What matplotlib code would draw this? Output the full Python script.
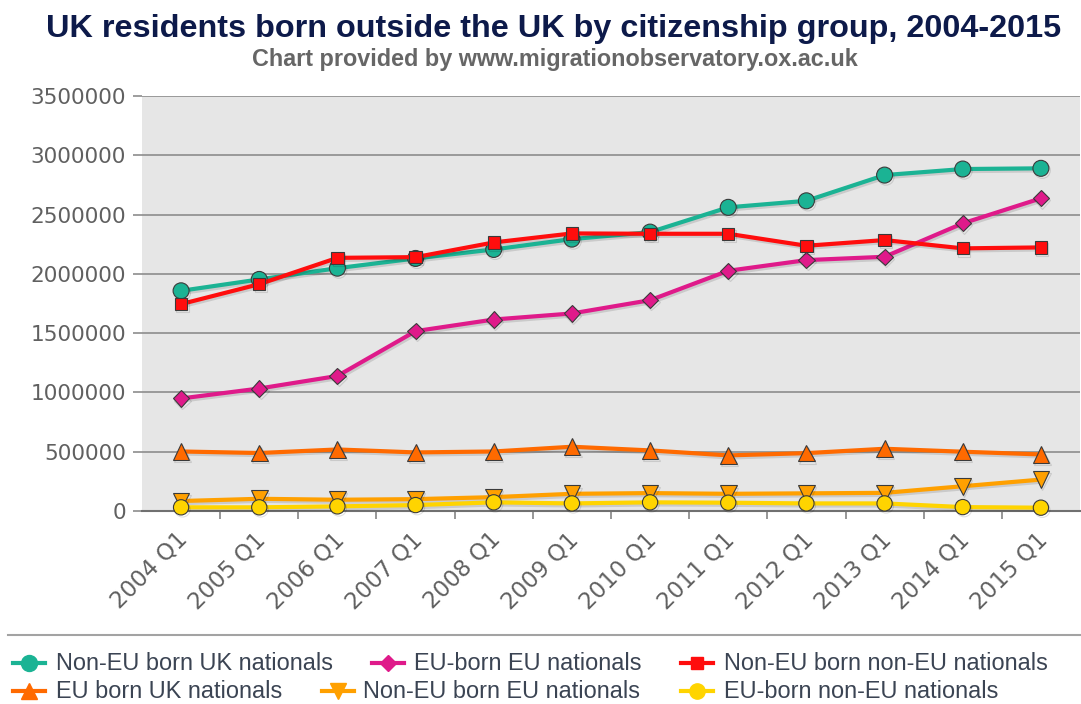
import matplotlib
matplotlib.use("Agg")
import matplotlib.pyplot as plt
from matplotlib.lines import Line2D
import matplotlib.transforms as mtransforms
import matplotlib.patheffects as pe

# ---------------- data ----------------
quarters = ["2004 Q1", "2005 Q1", "2006 Q1", "2007 Q1", "2008 Q1", "2009 Q1",
            "2010 Q1", "2011 Q1", "2012 Q1", "2013 Q1", "2014 Q1", "2015 Q1"]

non_eu_born_uk_nationals = [1857000, 1953000, 2048000, 2130000, 2206000, 2293000,
                            2352000, 2561000, 2616000, 2833000, 2884000, 2890000]
eu_born_eu_nationals = [949000, 1033000, 1139000, 1517000, 1615000, 1666000,
                        1778000, 2026000, 2116000, 2144000, 2426000, 2637000]
non_eu_born_non_eu_nationals = [1745000, 1913000, 2135000, 2141000, 2265000, 2341000,
                                2338000, 2338000, 2237000, 2285000, 2215000, 2223000]
eu_born_uk_nationals = [502000, 489000, 519000, 494000, 502000, 542000,
                        511000, 469000, 488000, 525000, 500000, 477000]
non_eu_born_eu_nationals = [84000, 103000, 95000, 100000, 117000, 145000,
                            151000, 145000, 149000, 153000, 209000, 265000]
eu_born_non_eu_nationals = [31000, 31000, 39000, 50000, 73000, 64000,
                            73000, 70000, 64000, 64000, 33000, 28000]

series_names = ["Non-EU born UK nationals", "EU-born EU nationals",
                "Non-EU born non-EU nationals", "EU born UK nationals",
                "Non-EU born EU nationals", "EU-born non-EU nationals"]
series_values = [non_eu_born_uk_nationals, eu_born_eu_nationals,
                 non_eu_born_non_eu_nationals, eu_born_uk_nationals,
                 non_eu_born_eu_nationals, eu_born_non_eu_nationals]
y_ticks = [0, 500000, 1000000, 1500000, 2000000, 2500000, 3000000, 3500000]

# ---------------- styles ----------------
colors = ["#1bb394", "#df1a8a", "#ff0d0d", "#ff6a00", "#ffa000", "#ffd400"]
markers = ["o", "D", "s", "^", "v", "o"]
msizes = [11.5, 8.3, 8.8, 12, 12, 11]

W, H = 1081, 704
def fx(px):
    return px / W
def fy(py):
    return 1 - py / H

fig = plt.figure(figsize=(W / 100, H / 100), dpi=100)
fig.patch.set_facecolor("white")

ax = fig.add_axes([fx(142), fy(511), fx(1080) - fx(142), fy(96) - fy(511)])
ax.set_facecolor("#e6e6e6")

xs = list(range(len(quarters)))
shadow = [pe.SimpleLineShadow(offset=(1, -1.5), shadow_color="black", alpha=0.12, rho=1),
          pe.Normal()]
for i, (name, vals) in enumerate(zip(series_names, series_values)):
    ax.plot(xs, vals, color=colors[i], lw=3, marker=markers[i], ms=msizes[i],
            mfc=colors[i], mec="#3a3a3a", mew=0.8, zorder=3 + i,
            solid_joinstyle="round", solid_capstyle="round",
            path_effects=shadow, clip_on=False)

ax.set_xlim(-0.5, 11.5)
ax.set_ylim(0, 3500000)
ax.set_yticks(y_ticks)
ax.set_yticklabels([str(v) for v in y_ticks])
ax.grid(axis="y", color="#8c8c8c", lw=1.2)
ax.set_axisbelow(True)
ax.tick_params(axis="y", length=6.5, width=1.2, color="#8c8c8c",
               labelsize=15.6, labelcolor="#606060", pad=5)

for s in ["top", "right", "left"]:
    ax.spines[s].set_visible(False)
ax.spines["bottom"].set_color("#707070")
ax.spines["bottom"].set_linewidth(1.5)
ax.spines["bottom"].set_zorder(2)

ax.set_xticks(xs)
ax.set_xticklabels(quarters, rotation=45, ha="right", va="center",
                   rotation_mode="anchor", fontsize=16.5, color="#606060")
ax.tick_params(axis="x", which="major", length=0, pad=18)
ax.set_xticks([i + 0.5 for i in range(len(quarters) - 1)], minor=True)
ax.tick_params(axis="x", which="minor", length=6, width=1.1, color="#7a7a7a",
               direction="out")
offset = mtransforms.ScaledTranslation(3 / 100, 0, fig.dpi_scale_trans)
for lab in ax.get_xticklabels():
    lab.set_transform(lab.get_transform() + offset)

# ---------------- titles ----------------
fig.text(fx(554), fy(37), "UK residents born outside the UK by citizenship group, 2004-2015",
         ha="center", va="baseline", fontsize=23.3, fontweight="bold",
         family="Liberation Sans", color="#0d1a4a")
fig.text(fx(555), fy(66), "Chart provided by www.migrationobservatory.ox.ac.uk",
         ha="center", va="baseline", fontsize=16.8, fontweight="bold",
         family="Liberation Sans", color="#666666")

# ---------------- legend ----------------
fig.add_artist(Line2D([fx(8), fx(1081)], [fy(635), fy(635)], transform=fig.transFigure,
                      color="#a3a3a3", lw=1.5))
legend_pos = [(29, 56, 670), (388, 414, 670), (697, 724, 670),
              (29, 56, 698), (338, 363, 698), (697, 724, 698)]
for i, (name, (mx, tx, base)) in enumerate(zip(series_names, legend_pos)):
    cy = base - 7
    fig.add_artist(Line2D([fx(mx - 16), fx(mx + 16)], [fy(cy), fy(cy)],
                          transform=fig.transFigure, color=colors[i], lw=3))
    fig.add_artist(Line2D([fx(mx)], [fy(cy)], transform=fig.transFigure,
                          marker=markers[i], ms=msizes[i], color=colors[i],
                          mec=colors[i], lw=0))
    fig.text(fx(tx), fy(base), name, ha="left", va="baseline", fontsize=16.9,
             family="Liberation Sans", color="#3b4453")

fig.savefig("out.png", dpi=100)
